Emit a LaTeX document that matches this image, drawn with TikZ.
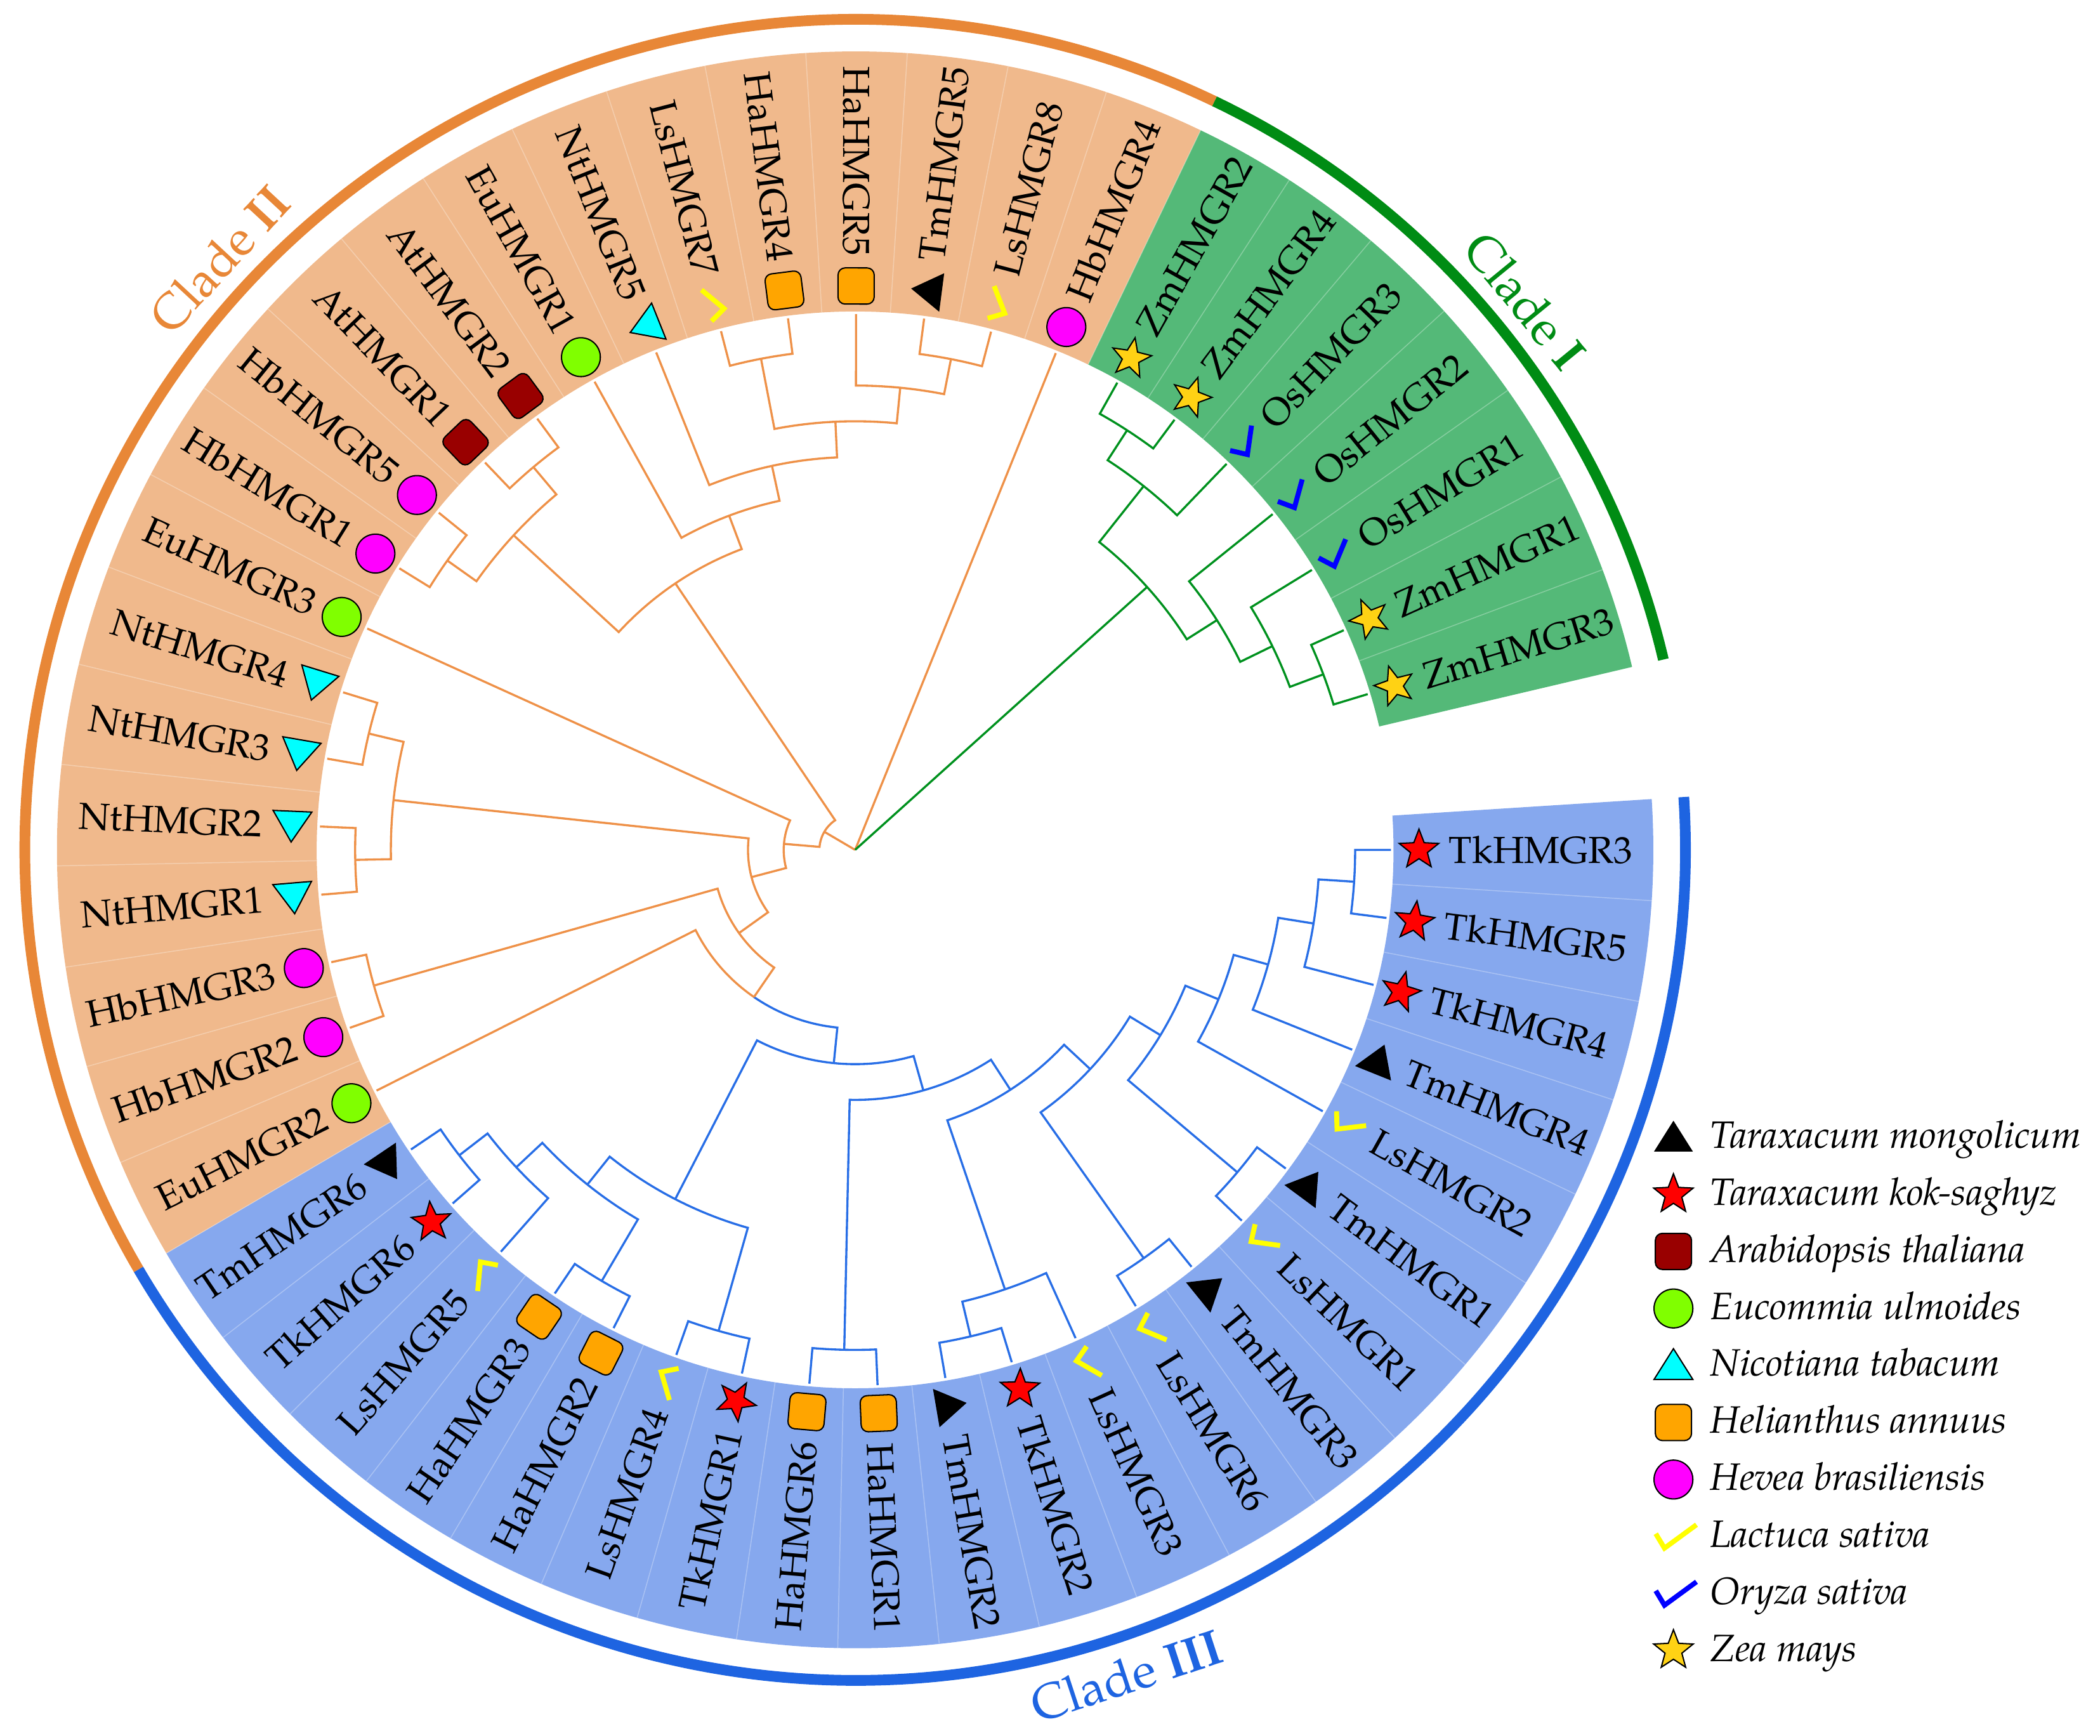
\documentclass[tikz,border=0pt]{standalone}
\usepackage{fontspec}
\setmainfont{TeX Gyre Pagella}

\definecolor{bgorange}{RGB}{240,185,140}
\definecolor{bggreen}{RGB}{84,185,120}
\definecolor{bgblue}{RGB}{134,168,238}
\definecolor{lnorange}{RGB}{238,145,72}
\definecolor{lngreen}{RGB}{0,145,30}
\definecolor{lnblue}{RGB}{40,110,230}
\definecolor{arcorange}{RGB}{232,135,55}
\definecolor{arcgreen}{RGB}{0,140,20}
\definecolor{arcblue}{RGB}{30,100,225}
\definecolor{atred}{RGB}{153,0,0}
\definecolor{eugreen}{RGB}{128,255,0}
\definecolor{haorange}{RGB}{255,165,0}
\definecolor{zmgold}{RGB}{255,210,20}
\definecolor{ntcyan}{RGB}{0,255,255}
\definecolor{hbmagenta}{RGB}{255,0,255}
\definecolor{lsyellow}{RGB}{255,255,0}
\definecolor{osblue}{RGB}{0,0,255}
\definecolor{tkred}{RGB}{255,0,0}

\tikzset{
  branch/.style={line width=0.9pt},
  sepline/.style={draw=white, draw opacity=0.3, line width=0.4pt},
  cladearc/.style={line width=0.16cm},
  leaflabel/.style={font=\fontsize{16}{19}\selectfont, inner sep=0pt},
  cladelabel/.style={font=\fontsize{21}{25}\selectfont, inner sep=0pt},
  legendlabel/.style={font=\fontsize{16.2}{19}\selectfont\itshape, inner sep=0pt, anchor=base west},
  outl/.style={draw=black, line width=0.55pt},
  pics/mkTm/.style={code={\fill[black] (0,12.5) -- (-14.5,-10.5) -- (14.5,-10.5) -- cycle;}},
  pics/mkNt/.style={code={\filldraw[outl, fill=ntcyan] (0,12.5) -- (-14.5,-10.5) -- (14.5,-10.5) -- cycle;}},
  pics/mkTk/.style={code={\filldraw[outl, fill=tkred] (90:15.5) -- (126:6.6) -- (162:15.5) -- (198:6.6) -- (234:15.5) -- (270:6.6) -- (306:15.5) -- (342:6.6) -- (18:15.5) -- (54:6.6) -- cycle;}},
  pics/mkZm/.style={code={\filldraw[outl, fill=zmgold] (90:15.5) -- (126:6.6) -- (162:15.5) -- (198:6.6) -- (234:15.5) -- (270:6.6) -- (306:15.5) -- (342:6.6) -- (18:15.5) -- (54:6.6) -- cycle;}},
  pics/mkAt/.style={code={\filldraw[outl, fill=atred, rounded corners=3pt] (-13.5,-13.5) rectangle (13.5,13.5);}},
  pics/mkHa/.style={code={\filldraw[outl, fill=haorange, rounded corners=3pt] (-13.5,-13.5) rectangle (13.5,13.5);}},
  pics/mkEu/.style={code={\filldraw[outl, fill=eugreen] (0,0) circle[radius=14.5];}},
  pics/mkHb/.style={code={\filldraw[outl, fill=hbmagenta] (0,0) circle[radius=14.5];}},
  pics/mkLs/.style={code={\draw[lsyellow, line width=2.1pt] (-12,5) -- (-5.2,-6.4) -- (12.5,6.4);}},
  pics/mkOs/.style={code={\draw[osblue, line width=2.1pt] (-12,5) -- (-5.2,-6.4) -- (12.5,6.4);}},
  pics/lgLs/.style={code={\draw[lsyellow, line width=2.1pt] (-15.2,2.05) -- (-8.7,-8.75) -- (15.2,8.75);}},
  pics/lgOs/.style={code={\draw[osblue, line width=2.1pt] (-15.2,2.05) -- (-8.7,-8.75) -- (15.2,8.75);}}
}

\newcommand{\tjoin}[6]{\draw[branch, #1] ({-7.3*#3}:{400-80/3*#4}) -- ({-7.3*#3}:{400-80/3*#2}) arc[start angle={-7.3*#3}, end angle={-7.3*#5}, radius={400-80/3*#2}] -- ({-7.3*#5}:{400-80/3*#6});}

\newcommand{\tleaf}[3]{%
  \pgfmathsetmacro\la{-7.3*#1}%
  \pgfmathtruncatemacro\side{cos(\la)>0.01}%
  \ifnum\side=1
    \node[leaflabel, rotate=\la, anchor=west] (#2) at (\la:443) {#2};
  \else
    \node[leaflabel, rotate=\la+180, anchor=east] (#2) at (\la:443) {#2};
  \fi
  \pic[rotate=\la] at (\la:421) {#3};
}

\begin{document}
\begin{tikzpicture}[x=0.02cm, y=0.02cm]
\useasboundingbox (-638.5,-661.5) rectangle (929.5,634.5);

\fill[bgblue] (3.65:402) arc[start angle=3.65, end angle=-149.65, radius=402] -- (-149.65:596) arc[start angle=-149.65, end angle=3.65, radius=596] -- cycle;
\fill[bgorange] (-149.65:402) arc[start angle=-149.65, end angle=-295.65, radius=402] -- (-295.65:596) arc[start angle=-295.65, end angle=-149.65, radius=596] -- cycle;
\fill[bggreen] (-295.65:402) arc[start angle=-295.65, end angle=-346.75, radius=402] -- (-346.75:596) arc[start angle=-346.75, end angle=-295.65, radius=596] -- cycle;
\foreach \i in {1,...,47} \draw[sepline] ({3.65-7.3*\i}:402) -- ({3.65-7.3*\i}:596);

\draw[cladearc, arcorange] (64.35:620) arc[start angle=64.35, end angle=210.35, radius=620];
\draw[cladearc, arcgreen] (13.25:620) arc[start angle=13.25, end angle=64.35, radius=620];
\draw[cladearc, arcblue] (-149.65:620) arc[start angle=-149.65, end angle=3.65, radius=620];

\node[cladelabel, text=arcorange, rotate=47.1] (cladeII) at (137.1:648) {Clade \textbf{II}};
\node[cladelabel, text=arcgreen, rotate=-50.7] (cladeI) at (39.3:647) {Clade \textbf{I}};
\node[cladelabel, text=arcblue, rotate=18.2] (cladeIII) at (-71.8:649) {Clade \textbf{III}};

\tjoin{lnblue}{1}{0}{0}{1}{0}
\tjoin{lnblue}{2}{2}{0}{0.5}{1}
\tjoin{lnblue}{3}{3}{0}{1.25}{2}
\tjoin{lnblue}{4}{4}{0}{2.125}{3}
\tjoin{lnblue}{1}{5}{0}{6}{0}
\tjoin{lnblue}{5}{5.5}{1}{3.0625}{4}
\tjoin{lnblue}{1}{7}{0}{8}{0}
\tjoin{lnblue}{6}{7.5}{1}{4.28125}{5}
\tjoin{lnblue}{1}{10}{0}{11}{0}
\tjoin{lnblue}{2}{9}{0}{10.5}{1}
\tjoin{lnblue}{7}{9.75}{2}{5.890625}{6}
\tjoin{lnblue}{1}{12}{0}{13}{0}
\tjoin{lnblue}{8}{12.5}{1}{7.8203125}{7}
\tjoin{lnblue}{1}{19}{0}{20}{0}
\tjoin{lnblue}{2}{18}{0}{19.5}{1}
\tjoin{lnblue}{1}{16}{0}{17}{0}
\tjoin{lnblue}{3}{18.75}{2}{16.5}{1}
\tjoin{lnblue}{1}{14}{0}{15}{0}
\tjoin{lnblue}{4}{17.625}{3}{14.5}{1}
\tjoin{lnblue}{9}{16.0625}{4}{10.16015625}{8}
\draw[branch, lnorange] ({-7.3*21}:400) -- ({-7.3*21}:{400-80/3*10}) arc[start angle={-7.3*21}, end angle={-7.3*17.0556640625}, radius={400-80/3*10}];
\draw[branch, lnblue] ({-7.3*17.0556640625}:{400-80/3*10}) arc[start angle={-7.3*17.0556640625}, end angle={-7.3*13.111328125}, radius={400-80/3*10}] -- ({-7.3*13.111328125}:{400-80/3*9});
\tjoin{lnorange}{1}{22}{0}{23}{0}
\tjoin{lnorange}{11}{22.5}{1}{17.0556640625}{10}
\tjoin{lnorange}{1}{26}{0}{27}{0}
\tjoin{lnorange}{1}{24}{0}{25}{0}
\tjoin{lnorange}{2}{26.5}{1}{24.5}{1}
\tjoin{lnorange}{12}{25.5}{2}{19.77783203125}{11}
\tjoin{lnorange}{13}{28}{0}{22.638916015625}{12}
\tjoin{lnorange}{1}{29}{0}{30}{0}
\tjoin{lnorange}{1}{31}{0}{32}{0}
\tjoin{lnorange}{2}{29.5}{1}{31.5}{1}
\tjoin{lnorange}{1}{35}{0}{36}{0}
\tjoin{lnorange}{1}{38}{0}{39}{0}
\tjoin{lnorange}{2}{37}{0}{38.5}{1}
\tjoin{lnorange}{3}{35.5}{1}{37.75}{2}
\tjoin{lnorange}{4}{34}{0}{36.625}{3}
\tjoin{lnorange}{5}{33}{0}{35.3125}{4}
\tjoin{lnorange}{6}{30.5}{2}{34.15625}{5}
\tjoin{lnorange}{14}{25.3194580078125}{13}{32.328125}{6}
\tjoin{lngreen}{1}{41}{0}{42}{0}
\tjoin{lngreen}{2}{41.5}{1}{43}{0}
\tjoin{lngreen}{1}{46}{0}{47}{0}
\tjoin{lngreen}{2}{45}{0}{46.5}{1}
\tjoin{lngreen}{3}{44}{0}{45.75}{2}
\tjoin{lngreen}{4}{42.25}{2}{44.875}{3}
\draw[branch, lnorange] (0,0) -- ({-7.3*28.82379150390625}:{80/3});
\draw[branch, lnorange] (0,0) -- ({-7.3*40}:400);
\draw[branch, lngreen] (0,0) -- ({-7.3*43.5625}:{400-80/3*4});

\tleaf{0}{TkHMGR3}{mkTk}
\tleaf{1}{TkHMGR5}{mkTk}
\tleaf{2}{TkHMGR4}{mkTk}
\tleaf{3}{TmHMGR4}{mkTm}
\tleaf{4}{LsHMGR2}{mkLs}
\tleaf{5}{TmHMGR1}{mkTm}
\tleaf{6}{LsHMGR1}{mkLs}
\tleaf{7}{TmHMGR3}{mkTm}
\tleaf{8}{LsHMGR6}{mkLs}
\tleaf{9}{LsHMGR3}{mkLs}
\tleaf{10}{TkHMGR2}{mkTk}
\tleaf{11}{TmHMGR2}{mkTm}
\tleaf{12}{HaHMGR1}{mkHa}
\tleaf{13}{HaHMGR6}{mkHa}
\tleaf{14}{TkHMGR1}{mkTk}
\tleaf{15}{LsHMGR4}{mkLs}
\tleaf{16}{HaHMGR2}{mkHa}
\tleaf{17}{HaHMGR3}{mkHa}
\tleaf{18}{LsHMGR5}{mkLs}
\tleaf{19}{TkHMGR6}{mkTk}
\tleaf{20}{TmHMGR6}{mkTm}
\tleaf{21}{EuHMGR2}{mkEu}
\tleaf{22}{HbHMGR2}{mkHb}
\tleaf{23}{HbHMGR3}{mkHb}
\tleaf{24}{NtHMGR1}{mkNt}
\tleaf{25}{NtHMGR2}{mkNt}
\tleaf{26}{NtHMGR3}{mkNt}
\tleaf{27}{NtHMGR4}{mkNt}
\tleaf{28}{EuHMGR3}{mkEu}
\tleaf{29}{HbHMGR1}{mkHb}
\tleaf{30}{HbHMGR5}{mkHb}
\tleaf{31}{AtHMGR1}{mkAt}
\tleaf{32}{AtHMGR2}{mkAt}
\tleaf{33}{EuHMGR1}{mkEu}
\tleaf{34}{NtHMGR5}{mkNt}
\tleaf{35}{LsHMGR7}{mkLs}
\tleaf{36}{HaHMGR4}{mkHa}
\tleaf{37}{HaHMGR5}{mkHa}
\tleaf{38}{TmHMGR5}{mkTm}
\tleaf{39}{LsHMGR8}{mkLs}
\tleaf{40}{HbHMGR4}{mkHb}
\tleaf{41}{ZmHMGR2}{mkZm}
\tleaf{42}{ZmHMGR4}{mkZm}
\tleaf{43}{OsHMGR3}{mkOs}
\tleaf{44}{OsHMGR2}{mkOs}
\tleaf{45}{OsHMGR1}{mkOs}
\tleaf{46}{ZmHMGR1}{mkZm}
\tleaf{47}{ZmHMGR3}{mkZm}

\pic at (611,-214.7) {mkTm};
\pic at (611,-257.3) {mkTk};
\pic at (611,-299.8) {mkAt};
\pic at (611,-342.4) {mkEu};
\pic at (611,-384.9) {mkNt};
\pic at (611,-427.5) {mkHa};
\pic at (611,-470.1) {mkHb};
\pic at (613,-512.6) {lgLs};
\pic at (613,-555.2) {lgOs};
\pic at (611,-597.7) {mkZm};
\node[legendlabel] (lgTm) at (638,-222.7) {Taraxacum mongolicum};
\node[legendlabel] (lgTk) at (638,-265.3) {Taraxacum kok-saghyz};
\node[legendlabel] (lgAt) at (638,-307.8) {Arabidopsis thaliana};
\node[legendlabel] (lgEu) at (638,-350.4) {Eucommia ulmoides};
\node[legendlabel] (lgNt) at (638,-392.9) {Nicotiana tabacum};
\node[legendlabel] (lgHa) at (638,-435.5) {Helianthus annuus};
\node[legendlabel] (lgHb) at (638,-478.1) {Hevea brasiliensis};
\node[legendlabel] (lgLs) at (638,-520.6) {Lactuca sativa};
\node[legendlabel] (lgOs) at (638,-563.2) {Oryza sativa};
\node[legendlabel] (lgZm) at (638,-605.7) {Zea mays};
\end{tikzpicture}
\end{document}
